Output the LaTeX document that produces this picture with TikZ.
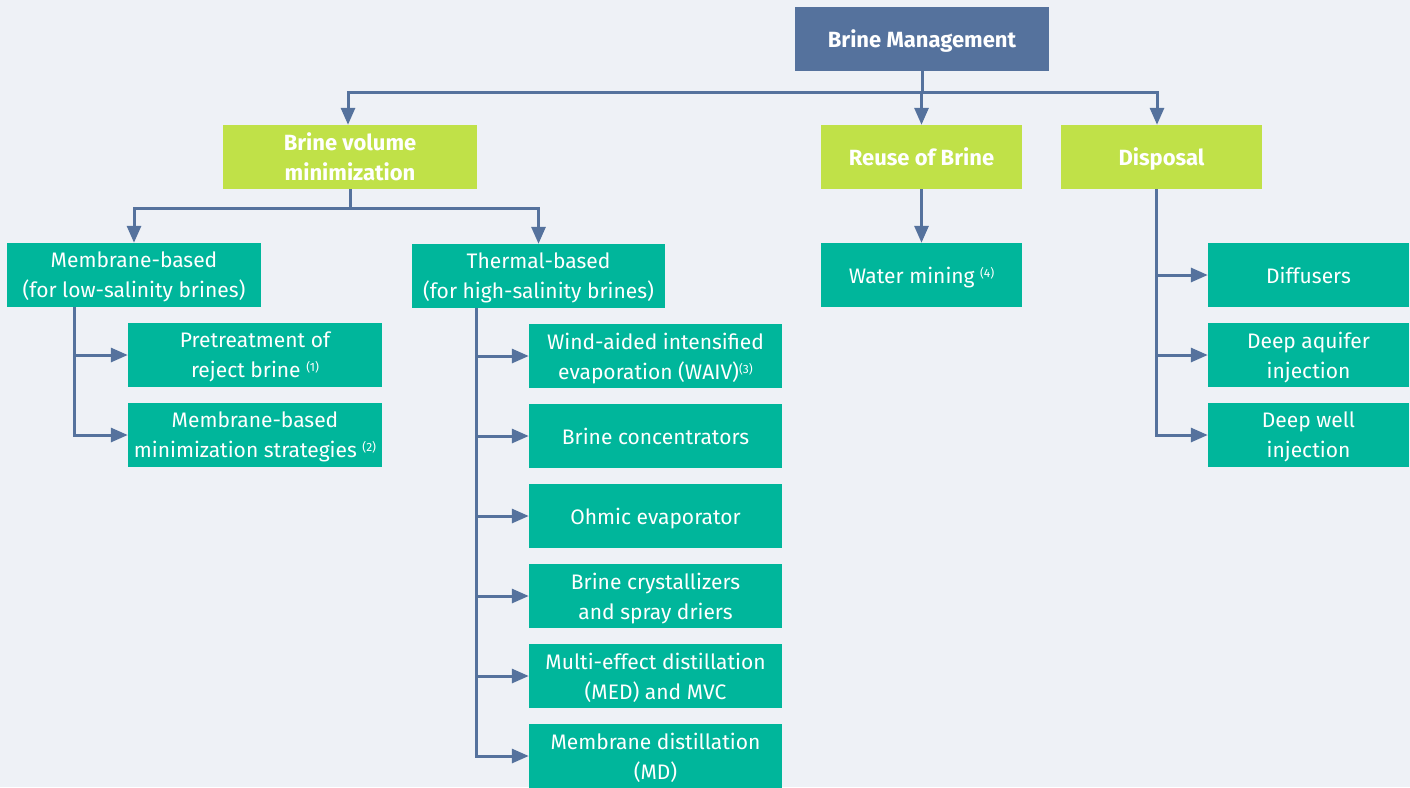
\documentclass[tikz,border=0pt]{standalone}
\usepackage{fontspec}
\setmainfont{Fira Sans}
\usetikzlibrary{arrows.meta}
\definecolor{bgc}{HTML}{EEF1F6}
\definecolor{navy}{HTML}{55729D}
\definecolor{lime}{HTML}{C0E148}
\definecolor{teal}{HTML}{00B69B}
\newcommand{\fnote}[1]{\raisebox{6pt}{\fontsize{12}{12}\selectfont(#1)}}
\tikzset{
  box/.style={rectangle, inner sep=0pt, align=center, text=white, text depth=0pt,
     font=\fontsize{21}{30}\selectfont, minimum height=64pt},
  topbox/.style={box, fill=navy, font=\bfseries\fontsize{22}{30}\selectfont, minimum width=254pt},
  catbox/.style={box, fill=lime, font=\bfseries\fontsize{22}{30}\selectfont},
  leaf/.style={box, fill=teal},
  conn/.style={draw=navy, line width=3pt},
  arr/.style={conn, -{Triangle[length=17pt,width=14pt]}},
}
\begin{document}
\begin{tikzpicture}[x=1pt,y=-1pt]
\fill[bgc] (0,0) rectangle (1410,787);
\useasboundingbox (0,0) rectangle (1410,787);
\begin{scope}
\clip (0,0) rectangle (1410,787);
% nodes
\node[topbox] (bm) at (922,39) {Brine Management};
\node[catbox, minimum width=254pt] (bvm) at (350,157) {Brine volume\\minimization};
\node[catbox, minimum width=201pt] (reuse) at (921.5,157) {Reuse of Brine};
\node[catbox, minimum width=201pt] (disp) at (1161.5,157) {Disposal};

\node[leaf, minimum width=254pt] (mem) at (134,275) {Membrane-based\\(for low-salinity brines)};
\node[leaf, minimum width=253pt] (therm) at (538.5,276) {Thermal-based\\(for high-salinity brines)};
\node[leaf, minimum width=254pt] (pre) at (255,355) {Pretreatment of\\reject brine \fnote{1}};
\node[leaf, minimum width=254pt] (mms) at (255,435) {Membrane-based\\minimization strategies \fnote{2}};

\node[leaf, minimum width=253pt] (t1) at (655.5,356) {Wind-aided intensified\\evaporation (WAIV)\fnote{3}};
\node[leaf, minimum width=253pt] (t2) at (655.5,436) {Brine concentrators};
\node[leaf, minimum width=253pt] (t3) at (655.5,516) {Ohmic evaporator};
\node[leaf, minimum width=253pt] (t4) at (655.5,596) {Brine crystallizers\\and spray driers};
\node[leaf, minimum width=253pt] (t5) at (655.5,676) {Multi-effect distillation\\(MED) and MVC};
\node[leaf, minimum width=253pt] (t6) at (655.5,756) {Membrane distillation\\(MD)};

\node[leaf, minimum width=201pt] (water) at (921.5,275) {Water mining \fnote{4}};
\node[leaf, minimum width=201pt] (diff) at (1308.5,275) {Diffusers};
\node[leaf, minimum width=201pt] (aq) at (1308.5,355) {Deep aquifer\\injection};
\node[leaf, minimum width=201pt] (well) at (1308.5,435) {Deep well\\injection};
\end{scope}

% connectors
\coordinate (hub) at (922,92);
\draw[conn] (bm.south) -- (hub);
\draw[arr] (hub) -| ([xshift=-2pt]bvm.north);
\draw[arr] (hub) -| (reuse.north);
\draw[arr] (hub) -| ([xshift=-4.5pt]disp.north);

\coordinate (hub2) at (350,208);
\draw[conn] (bvm.south) -- (hub2);
\draw[arr] (hub2) -| (mem.north);
\draw[arr] (hub2) -| (therm.north);

\draw[arr] ([xshift=-60pt]mem.south) |- (pre.west);
\draw[arr] ([xshift=-60pt]mem.south) |- (mms.west);

\foreach \t in {t1,t2,t3,t4,t5,t6}
  \draw[arr] ([xshift=-62.5pt]therm.south) |- (\t.west);

\draw[arr] (reuse.south) -- (water.north);

\foreach \t in {diff,aq,well}
  \draw[arr] ([xshift=-5.5pt]disp.south) |- (\t.west);
\end{tikzpicture}
\end{document}
